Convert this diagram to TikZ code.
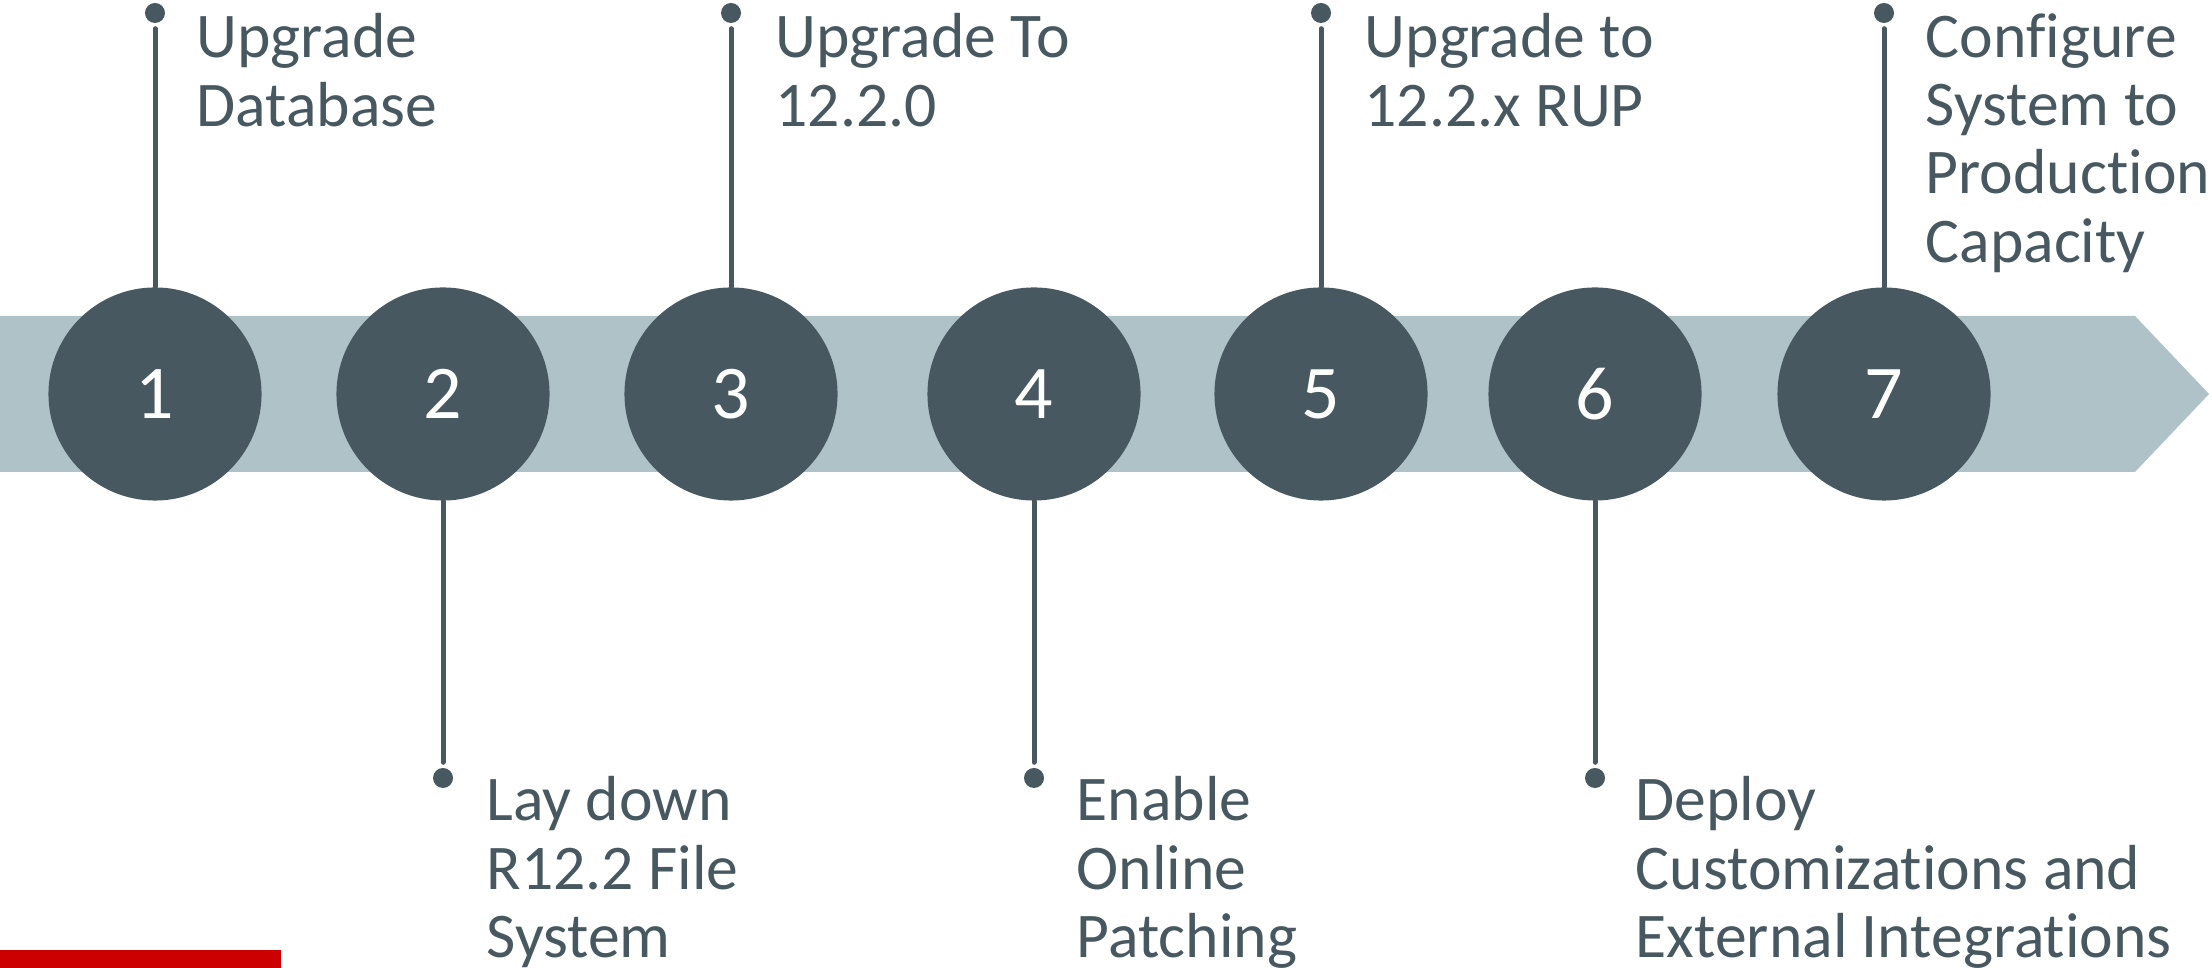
\documentclass[tikz,border=0pt]{standalone}
\usepackage{fontspec}
\setmainfont{Carlito}[Ligatures={NoCommon}]
\definecolor{slate}{RGB}{72,88,96}
\definecolor{steel}{RGB}{175,194,199}
\definecolor{oracred}{RGB}{204,0,0}
\tikzset{
  stepcirc/.style={circle,fill=slate,inner sep=0pt,minimum size=2.13cm,text=white,font=\fontsize{21.6pt}{24pt}\selectfont},
  tipdot/.style={circle,fill=slate,inner sep=0pt,minimum size=0.2cm},
  stemline/.style={draw=slate,line width=0.05cm,shorten >=0.05cm},
  lbl/.style={anchor=north west,align=left,inner sep=0pt,text=slate,font=\fontsize{18.1pt}{19.4pt}\selectfont}
}
\begin{document}
\begin{tikzpicture}[x=0.01cm,y=-0.01cm,line join=round,line cap=round]
  \useasboundingbox (0,0) rectangle (2209,968);
  \def\ytop{13}
  \def\ybot{778}
  \def\ymid{394}
  % the band
  \fill[steel] (0,316) -- (2135,316) -- (2209,\ymid) -- (2135,472) -- (0,472) -- cycle;
  \fill[oracred] (0,950) rectangle (281,968);
  % steps
  \node[stepcirc] (c1) at (155,\ymid) {1};
  \node[stepcirc] (c2) at (443,\ymid) {2};
  \node[stepcirc] (c3) at (731,\ymid) {3};
  \node[stepcirc] (c4) at (1034,\ymid) {4};
  \node[stepcirc] (c5) at (1321,\ymid) {5};
  \node[stepcirc] (c6) at (1595,\ymid) {6};
  \node[stepcirc] (c7) at (1884,\ymid) {7};
  % pins
  \node[tipdot] (d1) at (155,\ytop) {};
  \node[tipdot] (d2) at (443,\ybot) {};
  \node[tipdot] (d3) at (731,\ytop) {};
  \node[tipdot] (d4) at (1034,\ybot) {};
  \node[tipdot] (d5) at (1321,\ytop) {};
  \node[tipdot] (d6) at (1595,\ybot) {};
  \node[tipdot] (d7) at (1884,\ytop) {};
  \draw[stemline] (c1.north) -- (d1);
  \draw[stemline] (c2.south) -- (d2);
  \draw[stemline] (c3.north) -- (d3);
  \draw[stemline] (c4.south) -- (d4);
  \draw[stemline] (c5.north) -- (d5);
  \draw[stemline] (c6.south) -- (d6);
  \draw[stemline] (c7.north) -- (d7);
  % labels
  \node[lbl] (t1) at (196,\ytop) {Upgrade\\Database};
  \node[lbl] (t2) at (486,\ybot-2) {Lay down\\R12.2 File\\System};
  \node[lbl] (t3) at (775,\ytop) {Upgrade To\\12.2.0};
  \node[lbl] (t4) at (1076,\ybot-2) {Enable\\Online\\Patching};
  \node[lbl] (t5) at (1364,\ytop) {Upgrade to\\12.2.x RUP};
  \node[lbl] (t6) at (1635,\ybot-2) {Deploy\\Customizations and\\External Integrations};
  \node[lbl] (t7) at (1925,\ytop) {Configure\\System to\\Production\\Capacity};
\end{tikzpicture}
\end{document}
